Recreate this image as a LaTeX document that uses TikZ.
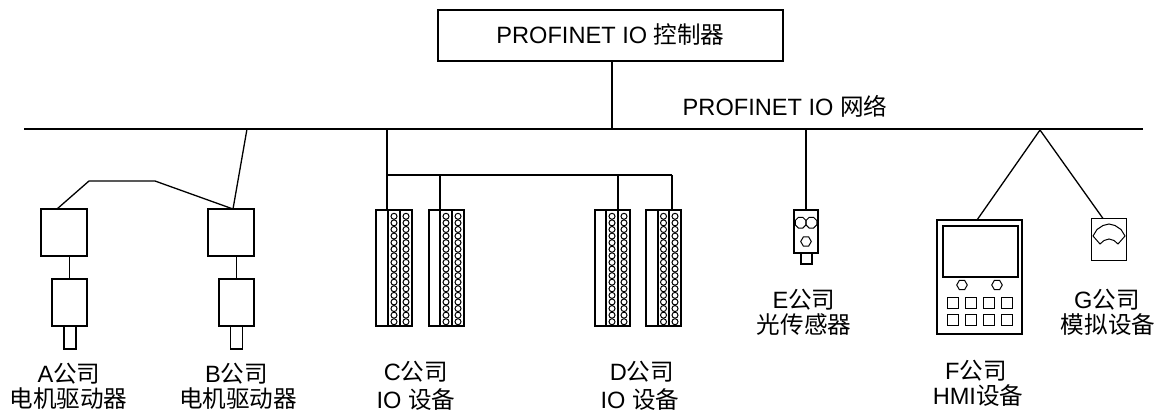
\documentclass[tikz,border=0pt]{standalone}
\usepackage{fontspec}
\setmainfont{Liberation Sans}
\newfontfamily\cjk{Noto Sans CJK SC}
\tikzset{
  ln/.style={line width=1.3pt},
  detail/.style={line width=1pt},
  devbox/.style={draw, line width=1.3pt, rectangle, inner sep=0pt, outer sep=0pt},
  lbl/.style={inner sep=0pt, text height=18pt, text depth=2pt, font=\fontsize{23.6}{27}\selectfont},
}
\newcommand\hexat[3]{\draw[detail] (#1,#2) +(0:#3) -- +(60:#3) -- +(120:#3) -- +(180:#3) -- +(240:#3) -- +(300:#3) -- cycle;}
\newcommand\octat[3]{\draw[detail] (#1,#2) +(22.5:#3) -- +(67.5:#3) -- +(112.5:#3) -- +(157.5:#3) -- +(202.5:#3) -- +(247.5:#3) -- +(292.5:#3) -- +(337.5:#3) -- cycle;}
% name, left, divider1, divider2, right
\newcommand\iodev[5]{%
  \node[devbox, minimum width={(#5-#2)*1pt}, minimum height=116pt] (#1) at ({(#2+#5)/2},268) {};
  \draw[ln] (#3,210) -- (#3,326);
  \draw[ln] (#4,210) -- (#4,326);
  \foreach \k in {0,...,16}{
    \draw[detail] ({(#3+#4)/2},{216.3+\k*6.59}) circle[radius=3pt];
    \draw[detail] ({(#4+#5)/2},{216.3+\k*6.59}) circle[radius=3pt];
  }
}
\begin{document}
\begin{tikzpicture}[x=1pt, y=-1pt]
\useasboundingbox (0,0) rectangle (1154,414);

% controller and bus
\node[devbox, lbl, minimum width=345pt, minimum height=51pt] (ctrl) at (610.5,35.5) {PROFINET IO {\cjk 控制器}};
\coordinate (busL) at (24,129);
\coordinate (busR) at (1143,129);
\draw[ln] (busL) -- (busR);
\coordinate (tCtrl) at (612,129);
\draw[ln] (ctrl.south -| tCtrl) -- (tCtrl);
\node[lbl] (netlbl) at (785,108) {PROFINET IO {\cjk 网络}};

% drives A and B
\node[devbox, minimum width=46pt, minimum height=47pt] (Aup) at (64,232.5) {};
\node[devbox, minimum width=35pt, minimum height=47pt] (Alow) at (69.5,302.5) {};
\node[devbox, minimum width=12pt, minimum height=23pt] (Ash) at (70,337.5) {};
\draw[ln] (Alow.north) -- (Alow.north |- Aup.south);
\node[devbox, minimum width=46pt, minimum height=47pt] (Bup) at (231,232.5) {};
\node[devbox, minimum width=35pt, minimum height=47pt] (Blow) at (236.5,302.5) {};
\node[devbox, minimum width=12pt, minimum height=23pt] (Bsh) at (236.5,337.5) {};
\draw[ln] (Blow.north) -- (Blow.north |- Bup.south);
\coordinate (aTop) at (57,209);
\coordinate (bTop) at (233,209);
\coordinate (lk1) at (89,181);
\coordinate (lk2) at (155,181);
\coordinate (tB) at (247,129);
\draw[ln] (aTop) -- (lk1) -- (lk2) -- (bTop) -- (tB);

% IO devices C and D
\iodev{C1}{376}{388}{400}{412}
\iodev{C2}{429}{440}{452}{464}
\iodev{D1}{595}{606}{618}{630}
\iodev{D2}{646}{658}{669}{681}
\coordinate (tC) at (387,129);
\draw[ln] (tC) -- (C1.north -| tC);
\coordinate (br0) at (387,175);
\coordinate (br1) at (672,175);
\draw[ln] (br0) -- (br1);
\coordinate (dC2) at (440,175);
\coordinate (dD1) at (618,175);
\draw[ln] (dC2) -- (C2.north -| dC2);
\draw[ln] (dD1) -- (D1.north -| dD1);
\draw[ln] (br1) -- (D2.north -| br1);

% E sensor
\node[devbox, minimum width=24pt, minimum height=43pt] (Es) at (806,231.5) {};
\node[devbox, minimum width=11pt, minimum height=11pt] (Ecn) at (806.5,258.5) {};
\coordinate (tE) at (806,129);
\draw[ln] (tE) -- (Es.north);
\octat{800.6}{222.7}{5.8}
\octat{811.4}{222.7}{5.8}
\hexat{806}{241.5}{5.3}

% F HMI
\node[devbox, minimum width=85pt, minimum height=114pt] (Fh) at (979.5,277) {};
\node[devbox, minimum width=75pt, minimum height=51pt] (Fscr) at (980.5,251.5) {};
\hexat{962}{285}{5.3}
\hexat{997}{285}{5.3}
\foreach \bx in {947,965,983,1001}{
  \foreach \by in {297,314}{
    \draw[detail] (\bx,\by) rectangle ++(11,11);
  }
}
% G analog device
\node[devbox, minimum width=35pt, minimum height=42pt] (Gd) at (1109,239.5) {};
\draw[detail] (1093,236) -- (1097,229.5) -- (1103,225.5) -- (1109,224) -- (1115,225.5) -- (1121,229.5) -- (1125,236)
  -- (1118,244) -- (1114,240.5) -- (1109,239) -- (1104,240.5) -- (1100,244) -- cycle;
\coordinate (tFG) at (1040,130);
\coordinate (fTop) at (977,220);
\coordinate (gTop) at (1103,218.5);
\draw[ln] (fTop) -- (tFG) -- (gTop);

% labels
\node[lbl] (la1) at (69,374) {A{\cjk 公司}};
\node[lbl] (la2) at (68.5,399) {\cjk 电机驱动器};
\node[lbl] (lb1) at (236.5,374) {B{\cjk 公司}};
\node[lbl] (lb2) at (238,399) {\cjk 电机驱动器};
\node[lbl] (lc1) at (416,372) {C{\cjk 公司}};
\node[lbl] (lc2) at (416,400) {IO {\cjk 设备}};
\node[lbl] (ld1) at (642,372) {D{\cjk 公司}};
\node[lbl] (ld2) at (640,400) {IO {\cjk 设备}};
\node[lbl] (le1) at (804,300.5) {E{\cjk 公司}};
\node[lbl] (le2) at (804,325) {\cjk 光传感器};
\node[lbl] (lf1) at (976,371.5) {F{\cjk 公司}};
\node[lbl] (lf2) at (978,396) {HMI{\cjk 设备}};
\node[lbl] (lg1) at (1107,300.5) {G{\cjk 公司}};
\node[lbl] (lg2) at (1108,325) {\cjk 模拟设备};
\end{tikzpicture}
\end{document}
